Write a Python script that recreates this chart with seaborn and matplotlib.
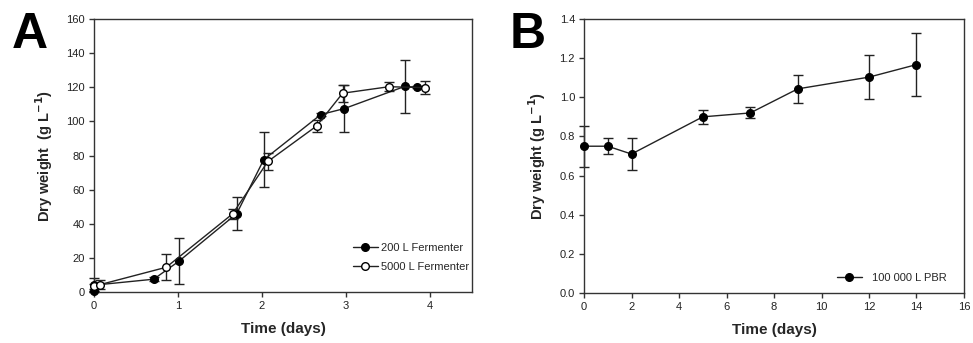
import numpy as np
import pandas as pd
import matplotlib
matplotlib.use("Agg")
import matplotlib.pyplot as plt
import seaborn as sns

# --- Panel A data: fermenters ---
a200_time = [0.0, 0.0, 0.71, 1.01, 1.70, 2.02, 2.70, 2.98, 3.70, 3.85]
a200_dw = [0.3, 4.0, 7.5, 18.0, 46.0, 77.5, 104.0, 107.5, 120.5, 120.0]
a200_err = [0.0, 4.0, 1.2, 13.5, 9.5, 16.0, 1.0, 14.0, 15.5, 0.5]

a5000_time = [0.0, 0.07, 0.86, 1.65, 2.07, 2.65, 2.96, 3.51, 3.94]
a5000_dw = [3.3, 4.3, 14.5, 45.8, 76.5, 97.3, 116.5, 120.3, 119.8]
a5000_err = [1.5, 2.5, 7.5, 3.0, 5.0, 3.5, 5.0, 2.5, 4.0]

# --- Panel B data: PBR ---
b_time = [0, 1, 2, 5, 7, 9, 12, 14]
b_dw = [0.75, 0.75, 0.71, 0.90, 0.92, 1.043, 1.103, 1.167]
b_err = [0.105, 0.04, 0.083, 0.035, 0.028, 0.07, 0.113, 0.162]

sns.set_style("ticks")
plt.rcParams["font.family"] = ["Liberation Sans", "DejaVu Sans"]

fig = plt.figure(figsize=(9.73, 3.43), dpi=100)
axA = fig.add_axes([94/973, 1 - 292/343, 378/973, 273/343])
axB = fig.add_axes([584/973, 1 - 293/343, 380/973, 274/343])

def draw(ax, t, y, e, filled, label):
    df = pd.DataFrame({"t": t, "y": y})
    eb = ax.errorbar(t, y, yerr=e, fmt="none", ecolor="#222222", elinewidth=1,
                     capsize=3.5, capthick=1, zorder=2)
    for part in eb.lines[1] + eb.lines[2]:
        part.set_clip_on(False)
    sns.lineplot(data=df, x="t", y="y", ax=ax, sort=False, estimator=None,
                 color="#222222", lw=1, marker="o", markersize=5.5,
                 markerfacecolor="black" if filled else "white",
                 markeredgecolor="black", markeredgewidth=1,
                 label=label, zorder=3, clip_on=False)

draw(axA, a200_time, a200_dw, a200_err, True, "200 L Fermenter")
draw(axA, a5000_time, a5000_dw, a5000_err, False, "5000 L Fermenter")
draw(axB, b_time, b_dw, b_err, True, "100 000 L PBR")

axA.set_xlim(0, 4.5)
axA.set_ylim(0, 160)
axA.set_xticks([0, 1, 2, 3, 4])
axA.set_yticks(np.arange(0, 161, 20))

axB.set_xlim(0, 16)
axB.set_ylim(0, 1.4)
axB.set_xticks(np.arange(0, 17, 2))
axB.set_yticks(np.arange(0, 1.41, 0.2))
axB.yaxis.set_major_formatter(matplotlib.ticker.FormatStrFormatter("%.1f"))

for ax, ylab in ((axA, "Dry weight  (g L$^{\\mathbf{-1}}$)"),
                 (axB, "Dry weight (g L$^{\\mathbf{-1}}$)")):
    for s in ax.spines.values():
        s.set_visible(True)
        s.set_color("#333333")
        s.set_linewidth(1)
    ax.tick_params(direction="out", length=3.5, width=1, color="#333333",
                   labelsize=8, pad=3, labelcolor="#222222")
    ax.set_xlabel("Time (days)", fontsize=11, fontweight="bold", labelpad=8)
    ax.set_ylabel(ylab, fontsize=10.5, fontweight="bold", labelpad=8)

legA = axA.legend(loc="lower right", bbox_to_anchor=(1.01, 0.05), frameon=False,
                  fontsize=8, handlelength=2.2, handletextpad=0.3,
                  labelspacing=0.75, borderaxespad=0.2)
legB = axB.legend(loc="lower right", bbox_to_anchor=(0.98, 0.0), frameon=False,
                  fontsize=8, handlelength=2.2, handletextpad=0.9,
                  borderaxespad=0.5)

fig.text(12/973, 1 - 48/343, "A", fontsize=36, fontweight="bold", color="black")
fig.text(510/973, 1 - 48/343, "B", fontsize=36, fontweight="bold", color="black")

fig.savefig("out.png", dpi=100)
